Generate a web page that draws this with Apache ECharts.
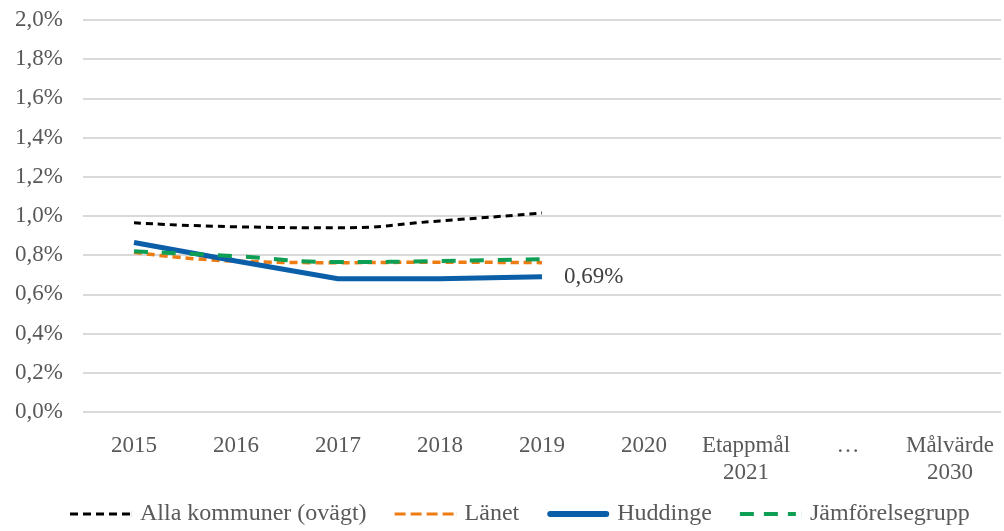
<!DOCTYPE html>
<html>
<head>
<meta charset="utf-8">
<script src="https://cdn.jsdelivr.net/npm/echarts@6/dist/echarts.min.js"></script>
<style>
    html, body { margin: 0; padding: 0; background: #fff; }
    #chart { width: 1004px; height: 531px; }
</style>
</head>
<body>
<div id="chart"></div>
<script>
var categories = ['2015', '2016', '2017', '2018', '2019', '2020', 'Etappmål\n2021', '…', 'Målvärde\n2030'];
var allaKommuner = [0.965, 0.945, 0.94, 0.975, 1.015];
var lanet = [0.815, 0.77, 0.762, 0.764, 0.762];
var huddinge = [0.865, 0.77, 0.68, 0.68, 0.69];
var jamforelse = [0.82, 0.795, 0.765, 0.77, 0.78];

var font = 'Liberation Serif';
var textColor = '#595959';

var chart = echarts.init(document.getElementById('chart'));

// legend icons, drawn in a 62x6 box
var iconBlack = 'path://M0,1.5H8V4.5H0Z M13,1.5H21V4.5H13Z M26,1.5H34V4.5H26Z M39,1.5H47V4.5H39Z M52,1.5H60V4.5H52Z M61.9,0H62V6H61.9Z';
var iconOrange = 'path://M0,1.5H11V4.5H0Z M16,1.5H27V4.5H16Z M32,1.5H43V4.5H32Z M48,1.5H59V4.5H48Z M61.9,0H62V6H61.9Z';
var iconBlue = 'path://M3,0H59A3,3 0 0 1 59,6H3A3,3 0 0 1 3,0Z';
var iconGreen = 'path://M0,1H14V5H0Z M24,1H38V5H24Z M48,1H56V5H48Z M61.9,0H62V6H61.9Z';

var option = {
    animation: false,
    textStyle: { fontFamily: font },
    grid: { left: 83, right: 3, top: 20, bottom: 119 },
    legend: {
        top: 502,
        left: 70,
        padding: 0,
        itemWidth: 62,
        itemHeight: 6,
        itemGap: 28,
        textStyle: { fontFamily: font, fontSize: 24, color: textColor, padding: [0, 0, 0, 3] },
        data: [
            { name: 'Alla kommuner (ovägt)', icon: iconBlack, itemStyle: { color: '#000' } },
            { name: 'Länet', icon: iconOrange, itemStyle: { color: '#ed7d12' } },
            { name: 'Huddinge', icon: iconBlue, itemStyle: { color: '#0b5fa8' } },
            { name: 'Jämförelsegrupp', icon: iconGreen, itemStyle: { color: '#0e9f55' } }
        ]
    },
    xAxis: {
        type: 'category',
        data: categories,
        axisLine: { show: false },
        axisTick: { show: false },
        axisLabel: { interval: 0, fontFamily: font, fontSize: 23, color: textColor, margin: 20, lineHeight: 27 }
    },
    yAxis: {
        type: 'value',
        min: 0,
        max: 2.0,
        interval: 0.2,
        axisLine: { show: false },
        axisTick: { show: false },
        splitLine: { lineStyle: { color: '#d9d9d9', width: 2 } },
        axisLabel: {
            fontFamily: font, fontSize: 23, color: textColor, margin: 20,
            formatter: function (v) {
                return v.toFixed(1).replace('.', ',') + '%';
            }
        }
    },
    series: [
        {
            name: 'Alla kommuner (ovägt)',
            type: 'line',
            data: allaKommuner,
            smooth: true,
            symbol: 'none',
            itemStyle: { color: '#000' },
            lineStyle: { color: '#000', width: 3, type: [7, 5] }
        },
        {
            name: 'Länet',
            type: 'line',
            data: lanet,
            smooth: true,
            symbol: 'none',
            itemStyle: { color: '#ed7d12' },
            lineStyle: { color: '#ed7d12', width: 3.5, type: [8, 5] }
        },
        {
            name: 'Huddinge',
            type: 'line',
            data: huddinge,
            symbol: 'none',
            itemStyle: { color: '#0b5fa8' },
            lineStyle: { color: '#0b5fa8', width: 5 },
            endLabel: {
                show: true,
                fontFamily: font,
                fontSize: 23,
                color: '#404040',
                distance: 22,
                formatter: function (p) {
                    return p.value.toFixed(2).replace('.', ',') + '%';
                }
            }
        },
        {
            name: 'Jämförelsegrupp',
            type: 'line',
            data: jamforelse,
            smooth: true,
            symbol: 'none',
            itemStyle: { color: '#0e9f55' },
            lineStyle: { color: '#0e9f55', width: 4, type: [14, 14] }
        }
    ]
};

chart.setOption(option);
</script>
</body>
</html>
